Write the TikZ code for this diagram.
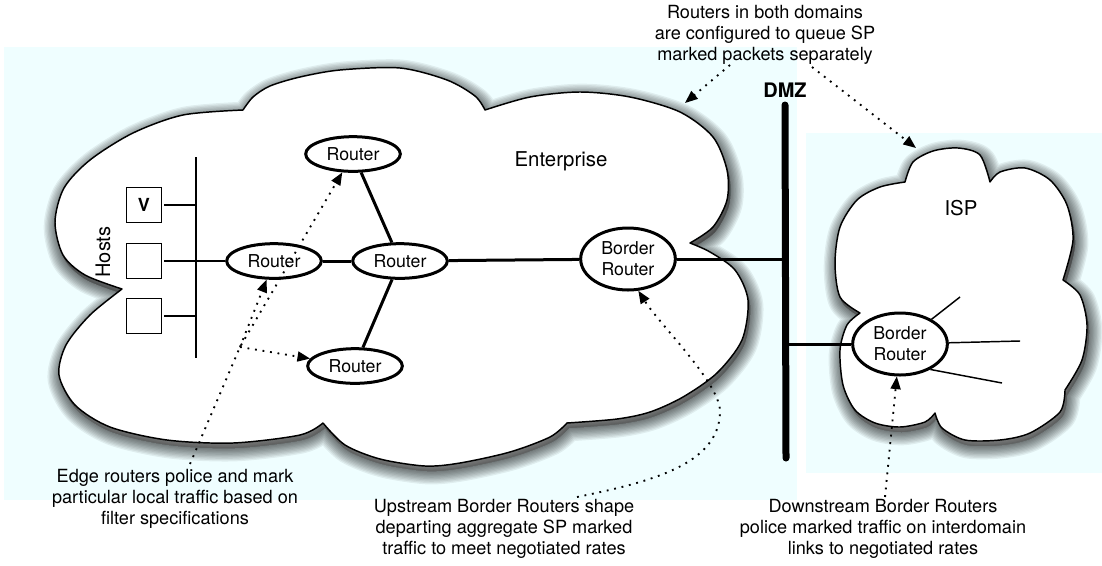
\documentclass[tikz,border=0pt]{standalone}
\usepackage{fontspec}
\setmainfont{TeX Gyre Heros}
\usetikzlibrary{shapes.geometric,arrows.meta}
\definecolor{zonebg}{RGB}{239,254,255}
\definecolor{shade}{RGB}{70,100,205}
\tikzset{
  entcloud/.style={insert path={
    plot[smooth] coordinates {(243,110) (253,97) (270,86) (300,77) (340,70) (400,68) (447,80) (475,96) (485,110)}
    -- plot[smooth] coordinates {(485,110) (530,97) (580,92) (630,97) (680,112) (713,137) (727,170) (727,200) (713,227) (690,243)}
    -- plot[smooth] coordinates {(690,243) (710,252) (735,270) (748,300) (742,340) (717,373) (683,397) (650,412) (617,419) (567,423)}
    -- plot[smooth] coordinates {(567,423) (550,437) (510,452) (460,463) (425,466) (380,459) (345,445) (323,423)}
    -- plot[smooth] coordinates {(323,423) (300,435) (233,443) (167,440) (110,427) (75,405) (59,375) (66,345) (90,315) (122,289)}
    -- plot[smooth] coordinates {(122,289) (85,275) (63,255) (55,222) (64,188) (90,160) (133,133) (183,115) (243,110)}
    -- cycle}},
  ispcloud/.style={insert path={
    plot[smooth] coordinates {(905,182) (913,162) (933,151) (958,148) (980,155) (990,182)}
    -- plot[smooth] coordinates {(990,182) (1000,172) (1025,168) (1050,180) (1067,205) (1073,240) (1063,280)}
    -- plot[smooth] coordinates {(1063,280) (1080,295) (1087,325) (1082,360) (1065,390)}
    -- plot[smooth] coordinates {(1065,390) (1060,412) (1030,433) (1000,440) (965,440) (942,428) (935,413)}
    -- plot[smooth] coordinates {(935,413) (925,422) (900,427) (875,423) (855,410) (843,385) (840,350) (847,325) (860,313)}
    -- plot[smooth] coordinates {(860,313) (840,297) (835,263) (840,227) (857,200) (880,187) (905,182)}
    -- cycle}},
  cloudline/.style={draw=black, fill=white, line width=1.1pt, line join=round},
  router/.style={ellipse, draw, line width=2.25pt, fill=white, minimum width=71pt,
    minimum height=26pt, inner sep=0pt, font=\fontsize{13.3}{15.75}\selectfont},
  border/.style={router, minimum height=46.5pt, align=center},
  link/.style={line width=2.25pt},
  thin/.style={line width=1.1pt},
  host/.style={draw, line width=1.1pt, minimum size=26pt, inner sep=0pt, fill=white},
  note/.style={align=center, font=\fontsize{13.6}{15.75}\selectfont},
  hintline/.style={line width=1.4pt, dash pattern=on 1.4pt off 4.3pt},
  hint/.style={hintline, -{Triangle[length=9.5pt,width=7.5pt]}},
}
\begin{document}
\begin{tikzpicture}[x=0.75pt, y=-0.75pt]
\useasboundingbox (0,0) rectangle (1102,565);

% shaded zones
\fill[zonebg] (4,47) rectangle (797,500);
\fill[zonebg] (806,133) rectangle (1102,473);

% soft cloud shadows, built up from widening translucent outlines
\begin{scope}[shift={(2,5)}]
  \foreach \w in {20,18,16,14,12,10,8,6,4,2}{
    \filldraw[shade, fill opacity=.065, draw opacity=.065, line width=\w pt, line join=round, entcloud];
    \filldraw[shade, fill opacity=.065, draw opacity=.065, line width=\w pt, line join=round, ispcloud];
  }
\end{scope}

% clouds
\path[cloudline, entcloud];
\path[cloudline, ispcloud];

\node[font=\fontsize{15.3}{18}\selectfont] (ent) at (561,161) {Enterprise};
\node[font=\fontsize{15.3}{18}\selectfont] (isp) at (961,208) {ISP};

% DMZ backbone
\coordinate (dt) at (785,105);
\coordinate (db) at (786,458);
\draw[line width=5.25pt, line cap=round] (dt) -- (db);
\node[font=\bfseries\fontsize{15}{18}\selectfont] (dmz) at (785,90) {DMZ};

% hosts and their bus
\coordinate (bt) at (196,157);
\coordinate (bb) at (196,358);
\draw[thin] (bt) -- (bb);
\node[host, font=\bfseries\fontsize{13.5}{15}\selectfont] (h1) at (144,205) {V};
\node[host] (h2) at (144,261) {};
\node[host] (h3) at (144,316) {};
\node[rotate=90, font=\fontsize{15}{17}\selectfont] (hosts) at (103,252) {Hosts};

% routers
\node[router] (r1) at (353,154) {Router};
\node[router] (r0) at (274,261) {Router};
\node[router] (r2) at (400,261) {Router};
\node[router] (r3) at (355,366) {Router};
\node[border] (ebr) at (628,259) {Border\\Router};
\node[border] (ibr) at (900,344) {Border\\Router};

% wiring
\draw[thin] ([xshift=1.5pt]h1.east) -- (h1.east -| bt);
\draw[thin] ([xshift=1.5pt]h2.east) -- (h2.east -| bt) -- (r0.west);
\draw[thin] ([xshift=1.5pt]h3.east) -- (h3.east -| bt);
\draw[link] (r0) -- (r2);
\draw[link] (r2) -- (r1);
\draw[link] (r2) -- (r3);
\draw[link] (r2) -- (ebr);
\draw[link] (ebr.east) -- (ebr.east -| dt);
\draw[link] (ibr.west) -- (ibr.west -| dt);

% ISP internal links
\coordinate (s1) at (960,297);
\coordinate (s2) at (1020,341);
\coordinate (s3) at (1002,383);
\draw[thin] (ibr) -- (s1);
\draw[thin] (ibr) -- (s2);
\draw[thin] (ibr.-40) -- (s3);

% annotations
\node[note] (ntop) at (765,35) {Routers in both domains\\are configured to queue SP\\marked packets separately};
\node[note] (nedge) at (175,499) {Edge routers police and mark\\particular local traffic based on\\filter specifications};
\node[note] (nup) at (504,529) {Upstream Border Routers shape\\departing aggregate SP marked\\traffic to meet negotiated rates};
\node[note] (ndown) at (883,529) {Downstream Border Routers\\police marked traffic on interdomain\\links to negotiated rates};

% annotation pointers
\coordinate (t1) at (730,65);
\coordinate (t1e) at (685,103);
\coordinate (t2) at (812,67);
\coordinate (t2e) at (916,148);
\draw[hint] (t1) -- (t1e);
\draw[hint] (t2) -- (t2e);

\coordinate (e0) at (190,464);
\coordinate (j) at (240,347);
\draw[hint] (e0) -- (j) -- (r1);
\draw[hint] (j) -- (r0);
\draw[hint] (j) -- (r3);

\coordinate (u0) at (577,497);
\coordinate (u1) at (720,413);
\draw[hint] (u0) .. controls (650,482) and (718,465) .. (u1)
  .. controls (722,385) and (660,325) .. (ebr.-72);

\coordinate (d0) at (885,497);
\draw[hint] (d0) -- (ibr);
\end{tikzpicture}
\end{document}
